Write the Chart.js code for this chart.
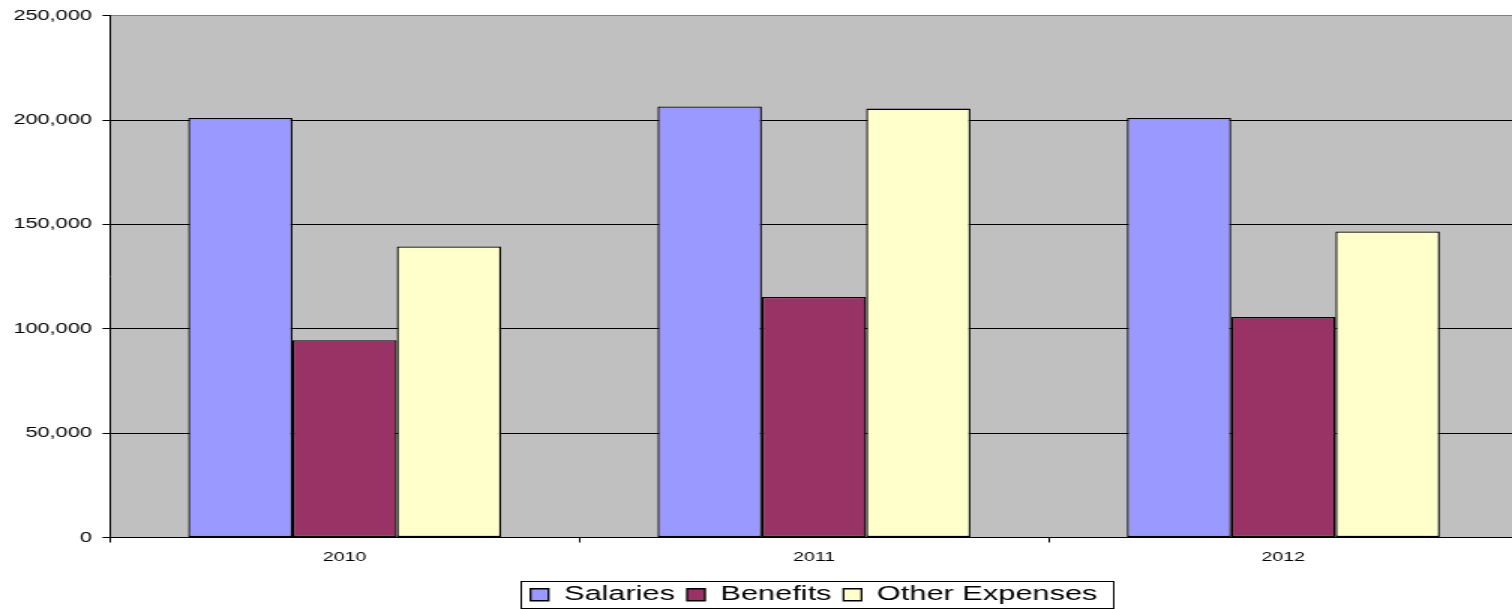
<!DOCTYPE html>
<html>
<head>
<meta charset="utf-8">
<script src="https://cdn.jsdelivr.net/npm/chart.js@4.4.1/dist/chart.umd.min.js"></script>
<style>
html,body{margin:0;padding:0;background:#fff;overflow:hidden;width:1512px;height:609px}
/* the original picture is a chart stretched sideways, so draw narrow and stretch */
#wrap{width:1012px;height:615px;transform:scaleX(1.5);transform-origin:0 0}
</style>
</head>
<body>
<div id="wrap"><canvas id="chart" width="1012" height="615"></canvas></div>
<script>
const years=['2010','2011','2012'];
const salaries=[201000,206500,201000];
const benefits=[94500,115200,105600];
const otherExpenses=[139400,205500,146600];
const yMin=0, yMax=250000, yStep=50000;

// grey plot area
const plotBg={id:'plotBg',beforeDraw(ch){
  const a=ch.chartArea,c=ch.ctx;
  c.save();c.fillStyle='#c0c0c0';
  c.fillRect(a.left,a.top,a.right-a.left,a.bottom-a.top);
  c.restore();
}};

// box round the legend, like Excel
const legendFrame={id:'legendFrame',afterDraw(ch){
  const hb=ch.legend&&ch.legend.legendHitBoxes;
  if(!hb||!hb.length)return;
  const last=hb[hb.length-1];
  const l=Math.round(hb[0].left-7)+.5, r=Math.round(last.left+last.width+10)+.5;
  const t=Math.round(hb[0].top-4)+.5, b=Math.round(hb[0].top+hb[0].height+3)+.5;
  const c=ch.ctx;
  c.save();c.strokeStyle='#000';c.lineWidth=1;
  c.strokeRect(l,t,r-l,b-t);
  c.restore();
}};

Chart.defaults.font.family='"Liberation Sans", Arial, sans-serif';
Chart.defaults.color='#000';

const bar=(label,data,color)=>({label,data,backgroundColor:color,borderColor:'#000',borderWidth:1.3,
  borderSkipped:false,categoryPercentage:2/3,barPercentage:1});

new Chart(document.getElementById('chart'),{
  type:'bar',
  data:{labels:years,datasets:[
    bar('Salaries',salaries,'#9999ff'),
    bar('Benefits',benefits,'#993366'),
    bar('Other Expenses',otherExpenses,'#ffffcc')
  ]},
  options:{
    responsive:false,animation:false,devicePixelRatio:1,
    layout:{padding:{top:14,left:0,right:0,bottom:0}},
    plugins:{
      tooltip:{enabled:false},
      legend:{position:'bottom',fullSize:false,
        labels:{font:{size:20.5},color:'#000',boxWidth:12,boxHeight:12,padding:8}}
    },
    scales:{
      x:{grid:{drawOnChartArea:false,drawTicks:true,tickLength:5,color:'#000',offset:true},
        border:{color:'#000'},
        ticks:{font:{size:13},color:'#000',padding:7,maxRotation:0},
        afterFit(s){s.height=39;}},
      y:{min:yMin,max:yMax,
        ticks:{stepSize:yStep,font:{size:14.5},color:'#000',padding:7,
          callback:v=>v.toLocaleString('en-US')},
        grid:{color:ctx=>ctx.tick&&ctx.tick.value===yMax?'#808080':'#000',tickColor:'#000',tickLength:5},
        border:{color:'#000'},
        afterFit(s){s.width=73.3;}}
    }
  },
  plugins:[plotBg,legendFrame]
});
</script>
</body>
</html>
